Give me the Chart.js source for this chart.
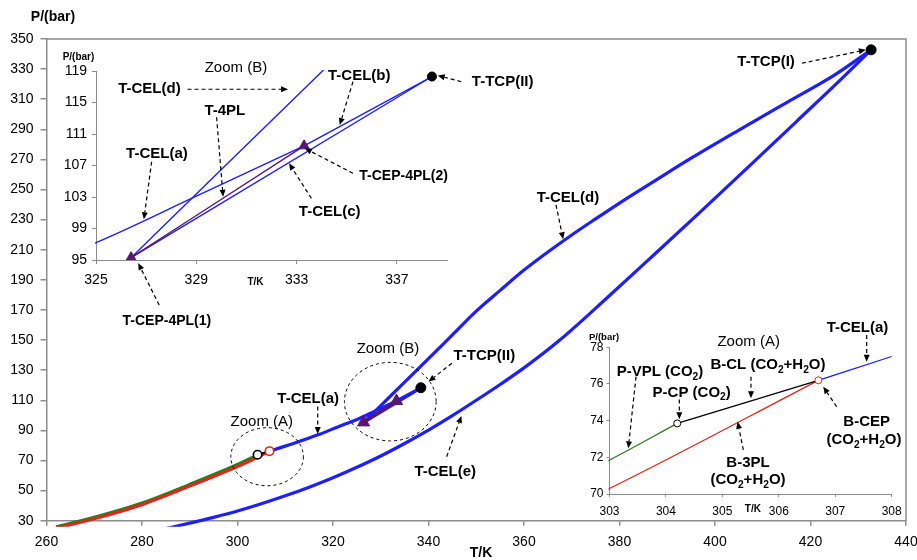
<!DOCTYPE html>
<html>
<head>
<meta charset="utf-8">
<script src="https://cdn.jsdelivr.net/npm/chart.js@4.4.1/dist/chart.umd.min.js"></script>
<style>
  html, body { margin: 0; padding: 0; background: #fff; }
  #wrap { position: relative; width: 917px; height: 560px; }
  canvas { position: absolute; }
</style>
</head>
<body>
<div id="wrap">
  <canvas id="main" width="917" height="560" style="left:0;top:0"></canvas>
  <canvas id="zoomB" width="500" height="255" style="left:50px;top:45px"></canvas>
  <canvas id="zoomA" width="340" height="200" style="left:570px;top:320px"></canvas>
</div>
<script>
// special points [T/K, P/bar]
const pcpCO2 = [304.2, 73.85];
const bCEP = [306.7, 76.2];
const tCEP1 = [326.4, 95.3];
const tCEP2 = [333.3, 109.5];
const tTCP2 = [338.4, 118.3];
const tTCP1 = [432.7, 342.8];

// P-VPL (CO2)
const vplT = [262, 270, 280, 290, 300, 303, 304.2];
const vplP = [26.0, 32.3, 41.8, 54.2, 67.4, 71.85, 73.85];
// B-3PL (CO2+H2O)
const b3plT = [262, 270, 280, 290, 300, 303, 306.7];
const b3plP = [25.0, 31.2, 40.6, 52.9, 66.0, 70.3, 76.2];
// B-CL (CO2+H2O)
const bclT = [304.2, 306.7];
const bclP = [73.85, 76.2];
// T-CEL(a)
const celAT = [306.7, 308, 312, 317, 321, 325, 329, 333.3];
const celAP = [76.2, 77.5, 81.6, 87.2, 92.3, 97.2, 103.1, 109.5];
// T-CEL(b)
const celBT = [333.3, 338.4];
const celBP = [109.5, 118.3];
// T-CEL(c)
const celCT = [326.4, 338.4];
const celCP = [95.3, 118.3];
// T-4PL
const fourPLT = [326.4, 333.3];
const fourPLP = [95.3, 109.5];
// T-CEL(d)
const celDT = [326.4, 330, 335, 340, 345, 350, 355, 360, 365, 370, 375, 380, 387.8, 395, 405, 415, 425, 432.7];
const celDP = [95.3, 106.5, 122.0, 137.6, 153.4, 169.2, 183.0, 196.5, 208.5, 219.8, 230.5, 241.0, 256.6, 270.8, 289.5, 307.8, 326.0, 342.8];
// T-CEL(e)
const celET = [285, 290, 295, 300, 305, 310, 315, 320, 325, 330, 335, 340, 345, 350, 355, 360, 367.5, 377.3, 387, 397, 407, 417, 425, 432.7];
const celEP = [24.8, 28.4, 32.2, 36.4, 41.2, 46.5, 52.3, 58.6, 65.5, 73.0, 81.3, 90.2, 99.8, 110.0, 120.5, 131.5, 150.0, 177.8, 206.0, 235.3, 265.0, 295.0, 319.0, 342.8];

// tick labels
const mainTTicks = [260, 280, 300, 320, 340, 360, 380, 400, 420, 440];
const mainPTicks = [30, 50, 70, 90, 110, 130, 150, 170, 190, 210, 230, 250, 270, 290, 310, 330, 350];
const zoomBTTicks = [325, 329, 333, 337];
const zoomBPTicks = [95, 99, 103, 107, 111, 115, 119];
const zoomATTicks = [303, 304, 305, 306, 307, 308];
const zoomAPTicks = [70, 72, 74, 76, 78];

// annotations: [text, T, P, size, bold]  arrows: [T1, P1, T2, P2]
const mainLabels = [
  ['T-TCP(I)', 410.7, 334.8, 15, true],
  ['T-CEL(d)', 369.2, 244.4, 15, true],
  ['T-CEL(a)', 314.8, 110.9, 15, true],
  ['Zoom (A)', 305.1, 95.6, 15, false],
  ['Zoom (B)', 331.5, 144.1, 15, false],
  ['T-TCP(II)', 351.7, 139.4, 15, true],
  ['T-CEL(e)', 343.5, 62.6, 15, true],
  ['T-CEP-4PL(1)', 285.2, 162.7, 14, true]
];
const mainArrows = [
  [418.2, 333.9, 431.6, 342.8],
  [366.7, 239.8, 368.2, 217.0],
  [316.8, 105.8, 316.8, 87.6],
  [344.9, 134.6, 340.0, 122.4],
  [343.8, 72.5, 346.9, 99.6],
  [283.6, 173.3, 279.2, 201.2]
];
const mainEllipses = [
  [306.2, 72.5, 7.6, 19.3],
  [332.0, 109.1, 9.6, 26.1]
];
const zoomBLabels = [
  ['Zoom (B)', 330.58, 119.38, 15, false],
  ['T-CEL(d)', 327.13, 116.71, 15, true],
  ['T-CEL(b)', 335.5, 118.37, 15, true],
  ['T-4PL', 330.14, 113.92, 15, true],
  ['T-CEL(a)', 327.43, 108.46, 15, true],
  ['T-CEP-4PL(2)', 337.27, 105.70, 14, true],
  ['T-CEL(c)', 334.32, 101.13, 15, true],
  ['T-TCP(II)', 341.22, 117.60, 15, true]
];
const zoomBArrows = [
  [328.65, 116.68, 332.66, 116.68],
  [335.25, 117.64, 334.72, 112.14],
  [329.81, 113.12, 330.07, 103.04],
  [327.22, 107.48, 326.91, 100.17],
  [335.25, 106.01, 333.33, 109.18],
  [333.59, 102.83, 332.70, 107.28],
  [339.57, 117.64, 338.63, 118.43]
];
const zoomALabels = [
  ['Zoom (A)', 305.466, 78.27, 15, false],
  ['T-CEL(a)', 307.394, 79.05, 15, true],
  ['P-VPL (CO_2)', 303.895, 76.65, 15, true],
  ['B-CL (CO_2+H_2O)', 305.808, 77.03, 15, true],
  ['P-CP (CO_2)', 304.456, 75.52, 15, true],
  ['B-CEP', 307.557, 73.94, 15, true],
  ['(CO_2+H_2O)', 307.509, 72.94, 15, true],
  ['B-3PL', 305.454, 71.71, 15, true],
  ['(CO_2+H_2O)', 305.454, 70.76, 15, true]
];
const zoomAArrows = [
  [307.557, 78.67, 307.557, 77.21],
  [303.470, 76.40, 303.333, 72.49],
  [305.507, 76.40, 305.507, 75.22],
  [304.237, 75.16, 304.237, 74.07],
  [307.025, 74.76, 306.788, 75.85],
  [305.371, 72.40, 305.271, 73.94]
];

const FONT = '"Liberation Sans", Arial, Helvetica, sans-serif';
const BLUE = '#1e1eff', GREEN = '#2d7a1f', RED = '#e3261b', PURPLE = '#57176f', AXIS = '#8c8c8c';

Chart.defaults.font.family = FONT;
Chart.defaults.color = '#000';

function lineSet(xs, ys, color, width, clip) {
  return {
    data: xs.map((x, i) => ({ x: x, y: ys[i] })),
    showLine: true, borderColor: color, borderWidth: width,
    pointRadius: 0, cubicInterpolationMode: 'monotone', fill: false,
    clip: clip
  };
}

function markSet(pts, style, radius, fill, stroke, bw) {
  return {
    data: pts.map(p => ({ x: p[0], y: p[1] })),
    showLine: false, pointStyle: style, pointRadius: radius,
    backgroundColor: fill, borderColor: stroke, borderWidth: bw
  };
}

// first dataset ends up on top
function datasets(w, m, clip) {
  return [
    markSet([tTCP1, tTCP2], 'circle', m.dot, '#000', '#000', 1),
    markSet([tCEP1, tCEP2], 'triangle', m.tri, PURPLE, PURPLE, 1),
    markSet([pcpCO2], 'circle', m.ring, '#fff', '#000', m.ringW),
    markSet([bCEP], 'circle', m.ring, '#fff', RED, m.ringW),
    lineSet(fourPLT, fourPLP, PURPLE, w.purple, clip),
    lineSet(bclT, bclP, '#000', w.black, clip),
    lineSet(b3plT, b3plP, RED, w.red, clip),
    lineSet(vplT, vplP, GREEN, w.green, clip),
    lineSet(celAT, celAP, BLUE, w.blue, clip),
    lineSet(celBT, celBP, BLUE, w.blue, clip),
    lineSet(celCT, celCP, BLUE, w.blue, clip),
    lineSet(celDT, celDP, BLUE, w.blue, clip),
    lineSet(celET, celEP, BLUE, w.blue, clip)
  ];
}

function drawRich(ctx, str, cx, cy, size, bold) {
  const parts = [];
  let buf = '';
  for (let i = 0; i < str.length; i++) {
    if (str[i] === '_') {
      if (buf) parts.push([buf, false]);
      buf = '';
      parts.push([str[i + 1], true]);
      i++;
    } else {
      buf += str[i];
    }
  }
  if (buf) parts.push([buf, false]);
  const font = sub => (bold ? 'bold ' : '') + (sub ? size * 0.68 : size) + 'px ' + FONT;
  let total = 0;
  parts.forEach(p => { ctx.font = font(p[1]); p.push(ctx.measureText(p[0]).width); total += p[2]; });
  let x = cx - total / 2;
  ctx.fillStyle = '#000';
  ctx.textAlign = 'left';
  ctx.textBaseline = 'middle';
  parts.forEach(p => {
    ctx.font = font(p[1]);
    ctx.fillText(p[0], x, p[1] ? cy + size * 0.32 : cy);
    x += p[2];
  });
}

function drawArrow(ctx, x1, y1, x2, y2) {
  const ang = Math.atan2(y2 - y1, x2 - x1), head = 7;
  const bx = x2 - head * Math.cos(ang), by = y2 - head * Math.sin(ang);
  ctx.strokeStyle = '#000';
  ctx.lineWidth = 1.2;
  ctx.setLineDash([4, 3]);
  ctx.beginPath();
  ctx.moveTo(x1, y1);
  ctx.lineTo(bx, by);
  ctx.stroke();
  ctx.setLineDash([]);
  ctx.fillStyle = '#000';
  ctx.beginPath();
  ctx.moveTo(x2, y2);
  ctx.lineTo(bx + 3 * Math.sin(ang), by - 3 * Math.cos(ang));
  ctx.lineTo(bx - 3 * Math.sin(ang), by + 3 * Math.cos(ang));
  ctx.closePath();
  ctx.fill();
}

// labels, arrows, ellipses and axis titles drawn in data coordinates
function notes(cfg) {
  return {
    id: 'notes',
    afterDraw(chart) {
      const ctx = chart.ctx, a = chart.chartArea;
      const px = v => chart.scales.x.getPixelForValue(v);
      const py = v => chart.scales.y.getPixelForValue(v);
      ctx.save();
      if (cfg.frame) {
        ctx.strokeStyle = AXIS;
        ctx.lineWidth = 1.5;
        ctx.beginPath();
        ctx.moveTo(a.left, a.top);
        ctx.lineTo(a.right, a.top);
        ctx.lineTo(a.right, a.bottom);
        ctx.stroke();
      }
      (cfg.ellipses || []).forEach(e => {
        const cx = px(e[0]), cy = py(e[1]);
        ctx.strokeStyle = '#000';
        ctx.lineWidth = 1;
        ctx.setLineDash([3, 3]);
        ctx.beginPath();
        ctx.ellipse(cx, cy, px(e[0] + e[2]) - cx, cy - py(e[1] + e[3]), 0, 0, Math.PI * 2);
        ctx.stroke();
        ctx.setLineDash([]);
      });
      cfg.arrows.forEach(r => drawArrow(ctx, px(r[0]), py(r[1]), px(r[2]), py(r[3])));
      cfg.labels.forEach(l => drawRich(ctx, l[0], px(l[1]), py(l[2]), l[3], l[4]));
      drawRich(ctx, 'P/(bar)', a.left + cfg.pTitle[0], a.top + cfg.pTitle[1], cfg.pTitle[2], true);
      drawRich(ctx, 'T/K', px(cfg.tTitle[0]), a.bottom + cfg.tTitle[1], cfg.tTitle[2], true);
      ctx.restore();
    }
  };
}

function axisCfg(min, max, vals, size, font, len, pad, lw) {
  return {
    type: 'linear', min: min, max: max,
    afterBuildTicks: s => { s.ticks = vals.map(v => ({ value: v })); },
    afterFit: s => {
      if (s.isHorizontal()) { s.height = size; s.paddingLeft = 0; s.paddingRight = 0; }
      else { s.width = size; s.paddingTop = 0; s.paddingBottom = 0; }
    },
    ticks: { font: { size: font, family: FONT }, color: '#000', padding: pad, autoSkip: false, maxRotation: 0, callback: v => String(v) },
    grid: { drawOnChartArea: false, drawTicks: true, tickLength: len, color: AXIS, lineWidth: lw },
    border: { display: true, color: AXIS, width: lw }
  };
}

function makeChart(id, sets, xAxis, yAxis, pad, cfg) {
  return new Chart(document.getElementById(id).getContext('2d'), {
    type: 'scatter',
    data: { datasets: sets },
    options: {
      responsive: false,
      animation: false,
      devicePixelRatio: 1,
      layout: { padding: { top: pad.top, right: pad.right, left: 0, bottom: 0 } },
      plugins: { legend: { display: false }, tooltip: { enabled: false } },
      scales: { x: xAxis, y: yAxis }
    },
    plugins: [notes(cfg)]
  });
}

// main diagram (curves run a few pixels past the bottom axis, as in the source)
makeChart('main',
  datasets({ blue: 3.2, green: 3, red: 3, black: 2, purple: 3 }, { dot: 5, tri: 7, ring: 4.2, ringW: 1.6 },
    { left: 0, top: 2, right: 2, bottom: 6 }),
  axisCfg(260, 440, mainTTicks, 39.3, 14, 5, 8, 1.5),
  axisCfg(30, 350, mainPTicks, 46.5, 14, 6, 7, 1.5),
  { top: 39, right: 11 },
  { frame: true, labels: mainLabels, arrows: mainArrows, ellipses: mainEllipses,
    pTitle: [6.5, -22, 14], tTitle: [351, 32, 14] });

// zoom (B) inset
makeChart('zoomB',
  datasets({ blue: 1.4, green: 1.3, red: 1.3, black: 1.2, purple: 1.4 }, { dot: 4.5, tri: 6, ring: 3.5, ringW: 1 }, 1),
  axisCfg(325, 339, zoomBTTicks, 40, 14, 4, 8, 1),
  axisCfg(95, 119, zoomBPTicks, 46, 14, 4, 5, 1),
  { top: 26, right: 103 },
  { labels: zoomBLabels, arrows: zoomBArrows, pTitle: [-17.5, -14, 10], tTitle: [331.36, 22, 10] });

// zoom (A) inset
makeChart('zoomA',
  datasets({ blue: 1.2, green: 1.3, red: 1.3, black: 1.2, purple: 1.2 }, { dot: 4, tri: 5, ring: 3.5, ringW: 1 }, 1),
  axisCfg(303, 308, zoomATTicks, 26, 12, 3, 7, 1),
  axisCfg(70, 78, zoomAPTicks, 39.5, 12, 3, 3, 1),
  { top: 27.3, right: 18.3 },
  { labels: zoomALabels, arrows: zoomAArrows, pTitle: [-5.5, -10, 9.5], tTitle: [305.54, 15, 10] });
</script>
</body>
</html>
